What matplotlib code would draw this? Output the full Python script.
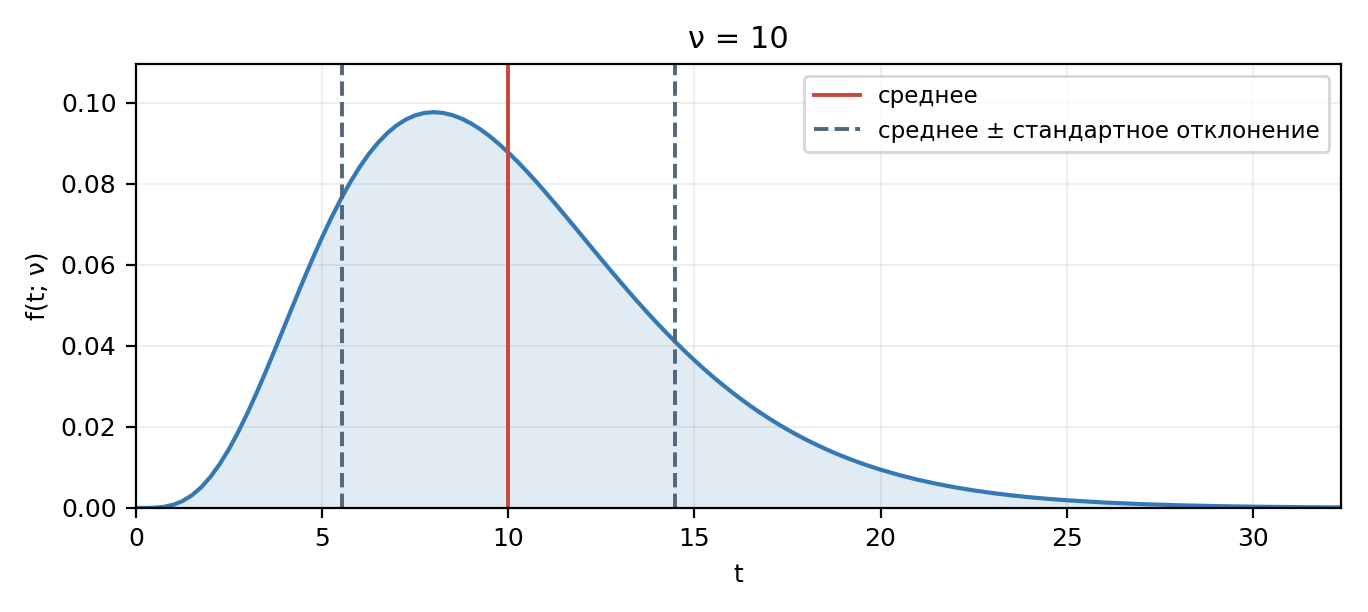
import matplotlib
matplotlib.use("Agg")
import matplotlib.pyplot as plt

t_values = [0, 0.25, 0.5, 0.75, 1, 1.25, 1.5, 1.75, 2, 2.25, 2.5, 2.75, 3, 3.25, 3.5, 3.75,
            4, 4.25, 4.5, 4.75, 5, 5.25, 5.5, 5.75, 6, 6.25, 6.5, 6.75, 7, 7.25, 7.5, 7.75,
            8, 8.25, 8.5, 8.75, 9, 9.25, 9.5, 9.75, 10, 10.25, 10.5, 10.75, 11, 11.25, 11.5,
            11.75, 12, 12.25, 12.5, 12.75, 13, 13.25, 13.5, 13.75, 14, 14.25, 14.5, 14.75,
            15, 15.25, 15.5, 15.75, 16, 16.25, 16.5, 16.75, 17, 17.25, 17.5, 17.75, 18,
            18.25, 18.5, 18.75, 19, 19.25, 19.5, 19.75, 20, 20.5, 21, 21.5, 22, 22.5, 23,
            23.5, 24, 24.5, 25, 26, 27, 28, 29, 30, 31, 32, 32.36]
f_values = [0.0, 0.0000045, 0.000063, 0.000283, 0.00079, 0.00170, 0.00311, 0.00509,
            0.00766, 0.01084, 0.01457, 0.01883, 0.02353, 0.02860, 0.03395, 0.03949,
            0.04511, 0.05073, 0.05628, 0.06165, 0.06680, 0.07166, 0.07617, 0.08030,
            0.08402, 0.08730, 0.09012, 0.09249, 0.09441, 0.09587, 0.09689, 0.09749,
            0.09768, 0.09749, 0.09695, 0.09608, 0.09490, 0.09345, 0.09176, 0.08984,
            0.08773, 0.08546, 0.08305, 0.08053, 0.07791, 0.07522, 0.07248, 0.06971,
            0.06693, 0.06414, 0.06137, 0.05862, 0.05591, 0.05325, 0.05064, 0.04809,
            0.04561, 0.04321, 0.04088, 0.03863, 0.03646, 0.03437, 0.03237, 0.03046,
            0.02863, 0.02688, 0.02521, 0.02363, 0.02213, 0.02070, 0.01935, 0.01807,
            0.01687, 0.01573, 0.01466, 0.01365, 0.01270, 0.01181, 0.01098, 0.01019,
            0.00946, 0.00813, 0.00697, 0.00597, 0.00509, 0.00434, 0.00369, 0.00313,
            0.00265, 0.00225, 0.00190, 0.00135, 0.00095, 0.00067, 0.00046, 0.00032,
            0.00022, 0.00015, 0.00013]
mean_value = 10.0
std_lines = [5.53, 14.47]
x_limits = [0, 32.36]
y_limits = [0, 0.1095]

fig = plt.figure(figsize=(6.84, 3.06), dpi=200)
ax = fig.add_axes([0.0994, 0.170, 0.8806, 0.725])

ax.fill_between(t_values, f_values, color="#3a7ab6", alpha=0.15, linewidth=0)
ax.plot(t_values, f_values, color="#3479b5", linewidth=1.5)
ax.axvline(mean_value, color="#c8473a", linewidth=1.4, label="среднее")
ax.axvline(std_lines[0], color="#53667a", linewidth=1.4, linestyle="--",
           label="среднее ± стандартное отклонение")
ax.axvline(std_lines[1], color="#53667a", linewidth=1.4, linestyle="--")

ax.set_xlim(*x_limits)
ax.set_ylim(*y_limits)
ax.set_xticks([0, 5, 10, 15, 20, 25, 30])
ax.set_yticks([0.0, 0.02, 0.04, 0.06, 0.08, 0.10])
ax.set_yticklabels(["0.00", "0.02", "0.04", "0.06", "0.08", "0.10"])
ax.grid(True, color="#cccccc", alpha=0.4, linewidth=0.6)
ax.set_axisbelow(True)
ax.tick_params(labelsize=9)
ax.set_xlabel("t", fontsize=9)
ax.set_ylabel("f(t; ν)", fontsize=9)
ax.set_title("ν = 10", fontsize=11)
ax.legend(loc="upper right", fontsize=8.3)

fig.savefig("out.png", dpi=200)
